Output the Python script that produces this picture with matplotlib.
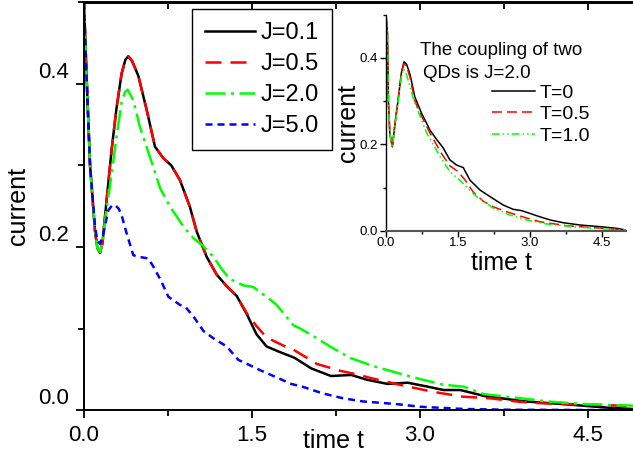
import matplotlib
matplotlib.use('Agg')
import matplotlib.pyplot as plt
from matplotlib.ticker import FixedLocator, MultipleLocator
from matplotlib.transforms import ScaledTranslation

plt.rcParams['font.family'] = ['Liberation Sans', 'DejaVu Sans']

# ---------------- main plot data (current vs time, different J) ----------------
t_j01 = [0, 0.02, 0.054, 0.098, 0.12, 0.143, 0.165, 0.2, 0.247, 0.29, 0.336, 0.37,
         0.396, 0.43, 0.485, 0.56, 0.634, 0.708, 0.78, 0.857, 0.946, 1.006, 1.095,
         1.185, 1.274, 1.363, 1.452, 1.54, 1.63, 1.74, 1.88, 2.03, 2.205, 2.386,
         2.53, 2.71, 2.89, 3.07, 3.21, 3.36, 3.58, 3.94, 4.3, 4.66, 5.0]
cur_j01 = [0.50, 0.42, 0.30, 0.22, 0.198, 0.193, 0.205, 0.255, 0.32, 0.37, 0.413, 0.43,
           0.434, 0.428, 0.41, 0.368, 0.323, 0.309, 0.300, 0.282, 0.249, 0.219, 0.188,
           0.166, 0.152, 0.140, 0.118, 0.093, 0.078, 0.0716, 0.0640, 0.051, 0.0417, 0.043,
           0.0370, 0.032, 0.0335, 0.0286, 0.0245, 0.0245, 0.017, 0.0105, 0.007, 0.003, 0.0005]

t_j05 = [0, 0.02, 0.054, 0.098, 0.12, 0.143, 0.165, 0.2, 0.247, 0.29, 0.336, 0.37,
         0.396, 0.43, 0.485, 0.56, 0.634, 0.708, 0.78, 0.857, 0.946, 1.006, 1.095,
         1.185, 1.274, 1.363, 1.452, 1.54, 1.63, 1.78, 1.87, 2.08, 2.29, 2.46, 2.566,
         2.85, 3.12, 3.38, 3.63, 3.89, 4.13, 4.4, 4.63, 5.0]
cur_j05 = [0.50, 0.42, 0.30, 0.22, 0.198, 0.193, 0.205, 0.255, 0.32, 0.37, 0.413, 0.43,
           0.434, 0.428, 0.41, 0.368, 0.323, 0.309, 0.300, 0.282, 0.249, 0.219, 0.188,
           0.166, 0.152, 0.140, 0.119, 0.103, 0.089, 0.079, 0.074, 0.0565, 0.048, 0.043,
           0.039, 0.030, 0.0222, 0.0164, 0.0143, 0.010, 0.008, 0.0069, 0.006, 0.0045]

t_j20 = [0, 0.02, 0.054, 0.098, 0.12, 0.143, 0.165, 0.2, 0.247, 0.29, 0.336, 0.365,
         0.39, 0.44, 0.5, 0.59, 0.68, 0.77, 0.83, 0.887, 0.976, 1.065, 1.155, 1.235,
         1.30, 1.42, 1.51, 1.63, 1.72, 1.87, 1.93, 2.08, 2.196, 2.375, 2.58, 2.79, 3.0,
         3.21, 3.39, 3.57, 3.86, 4.16, 4.46, 4.73, 5.0]
cur_j20 = [0.50, 0.42, 0.30, 0.22, 0.198, 0.194, 0.205, 0.245, 0.29, 0.335, 0.378, 0.39,
           0.393, 0.38, 0.347, 0.31, 0.272, 0.249, 0.237, 0.225, 0.211, 0.201, 0.188, 0.172,
           0.161, 0.153, 0.151, 0.139, 0.129, 0.104, 0.100, 0.088, 0.078, 0.064, 0.054, 0.0458,
           0.038, 0.031, 0.0286, 0.0195, 0.015, 0.0102, 0.0074, 0.006, 0.005]

t_j50 = [0, 0.02, 0.054, 0.098, 0.12, 0.143, 0.17, 0.217, 0.25, 0.277, 0.31, 0.336, 0.38,
         0.44, 0.485, 0.53, 0.574, 0.619, 0.69, 0.753, 0.857, 0.908, 0.976, 1.066, 1.155,
         1.274, 1.378, 1.48, 1.57, 1.72, 1.85, 1.95, 2.13, 2.31, 2.49, 2.78, 3.0, 3.4,
         3.8, 4.5, 5.0]
cur_j50 = [0.50, 0.42, 0.30, 0.225, 0.207, 0.204, 0.215, 0.245, 0.251, 0.2515, 0.247, 0.239,
           0.217, 0.190, 0.188, 0.187, 0.186, 0.176, 0.158, 0.139, 0.129, 0.126, 0.115, 0.097,
           0.088, 0.078, 0.0615, 0.055, 0.049, 0.040, 0.032, 0.0286, 0.0204, 0.0145, 0.0105,
           0.0074, 0.004, 0.0012, 0.0003, 0.0, 0.0]

# ---------------- inset data (J=2.0, different T) ----------------
t_T0 = [0, 0.03, 0.05, 0.08, 0.132, 0.19, 0.26, 0.32, 0.375, 0.43, 0.5, 0.6, 0.74, 0.84,
        0.92, 1.05, 1.19, 1.33, 1.47, 1.61, 1.75, 1.96, 2.17, 2.44, 2.65, 2.83, 3.0, 3.2,
        3.42, 3.69, 4.04, 4.46, 4.8, 5.0]
cur_T0 = [0.5, 0.457, 0.30, 0.225, 0.194, 0.25, 0.31, 0.365, 0.391, 0.385, 0.362, 0.31,
          0.272, 0.25, 0.232, 0.212, 0.192, 0.164, 0.152, 0.146, 0.117, 0.094, 0.0787, 0.0595,
          0.0495, 0.0463, 0.040, 0.0324, 0.0248, 0.0185, 0.0132, 0.0093, 0.0056, 0.0016]

t_T05 = [0, 0.03, 0.05, 0.08, 0.132, 0.19, 0.26, 0.32, 0.37, 0.43, 0.5, 0.6, 0.74, 0.84,
         0.92, 1.16, 1.33, 1.5, 1.65, 1.82, 2.03, 2.24, 2.51, 2.79, 3.2, 3.76, 4.32, 5.0]
cur_T05 = [0.5, 0.457, 0.30, 0.225, 0.194, 0.25, 0.31, 0.362, 0.387, 0.38, 0.355, 0.30,
           0.265, 0.243, 0.225, 0.178, 0.150, 0.137, 0.117, 0.089, 0.068, 0.055, 0.044,
           0.034, 0.0208, 0.0116, 0.007, 0.0016]

t_T10 = [0, 0.03, 0.05, 0.08, 0.132, 0.19, 0.26, 0.31, 0.36, 0.42, 0.57, 0.84, 1.13,
         1.33, 1.6, 1.89, 2.24, 2.58, 2.93, 3.35, 3.9, 4.46, 5.0]
cur_T10 = [0.5, 0.457, 0.30, 0.225, 0.192, 0.245, 0.305, 0.35, 0.375, 0.365, 0.305, 0.228,
           0.171, 0.137, 0.11, 0.0787, 0.052, 0.0363, 0.0248, 0.0155, 0.0093, 0.0046, 0.0016]

x_ticks = [0.0, 1.5, 3.0, 4.5]
x_ticklabels = ['0.0', '1.5', '3.0', '4.5']
y_ticks = [0.0, 0.2, 0.4]
y_ticklabels = ['0.0', '0.2', '0.4']

W, H = 633, 459
fig = plt.figure(figsize=(W / 100, H / 100), dpi=100)

# ---------------- main axes ----------------
ax = fig.add_axes([84 / W, (H - 410) / H, 560 / W, 407.5 / H])
lw = 1.8
kw = dict(solid_joinstyle='round', dash_joinstyle='round')
ax.plot(t_j01, cur_j01, color='black', lw=lw, label='J=0.1', **kw)
ax.plot(t_j05, cur_j05, color='#ff0000', lw=lw, ls=(0, (6.4, 3.6)), label='J=0.5', **kw)
ax.plot(t_j20, cur_j20, color='#00ff00', lw=lw, ls=(0, (8, 2.2, 1.2, 2.2)), label='J=2.0', **kw)
ax.plot(t_j50, cur_j50, color='#0000ff', lw=lw, ls=(0, (2.8, 2.0)), label='J=5.0', **kw)

ax.set_xlim(0, 5)
ax.set_ylim(0, 0.5)
ax.spines['right'].set_visible(False)
for s in ['left', 'bottom', 'top']:
    ax.spines[s].set_linewidth(1.4)
ax.xaxis.set_major_locator(FixedLocator(x_ticks))
ax.set_xticklabels(x_ticklabels)
ax.xaxis.set_minor_locator(MultipleLocator(0.75))
ax.yaxis.set_major_locator(FixedLocator(y_ticks))
ax.set_yticklabels(y_ticklabels)
ax.yaxis.set_minor_locator(MultipleLocator(0.1))
ax.tick_params(which='major', direction='out', length=6, width=1.3, labelsize=16)
ax.tick_params(which='minor', direction='out', length=4, width=1.3)
ax.tick_params(axis='x', which='major', pad=5)
ax.tick_params(axis='y', which='major', pad=5)

sec = ax.secondary_xaxis('top')
sec.set_xticks(x_ticks)
sec.xaxis.set_minor_locator(MultipleLocator(0.75))
sec.tick_params(which='major', direction='in', length=6, width=1.3, labeltop=False)
sec.tick_params(which='minor', direction='in', length=5, width=1.3)
sec.spines['top'].set_linewidth(1.4)

# y tick labels sit above their ticks, as in the original
for tk in ax.yaxis.get_major_ticks():
    tk.label1.set_transform(tk.label1.get_transform() +
                            ScaledTranslation(0, 0.14, fig.dpi_scale_trans))

ax.set_xlabel('time t', fontsize=18)
ax.xaxis.set_label_coords(0.445, -0.076)
ax.xaxis.label.set_va('center')
ax.set_ylabel('current', fontsize=18)
ax.yaxis.set_label_coords(-0.118, 0.5)
ax.yaxis.label.set_va('center')

leg = ax.legend(loc='upper left', bbox_to_anchor=(192 / W, 1 - 9 / H),
                bbox_transform=fig.transFigure, fontsize=17, frameon=True,
                fancybox=False, edgecolor='black', framealpha=1, borderpad=0.55,
                labelspacing=0.38, handlelength=2.1, handletextpad=0.25, borderaxespad=0)
leg.get_frame().set_linewidth(1.0)

# ---------------- inset axes ----------------
axin = fig.add_axes([386 / W, (H - 230.7) / H, 240 / W, 216 / H])
ilw = 1.1
axin.plot(t_T0, cur_T0, color='black', lw=ilw, label='T=0', **kw)
axin.plot(t_T05, cur_T05, color='#ff0000', lw=ilw, ls=(0, (6.5, 3.3)), label='T=0.5', **kw)
axin.plot(t_T10, cur_T10, color='#00ff00', lw=ilw, ls=(0, (5, 2, 1, 2, 1, 2)), label='T=1.0', **kw)
axin.set_xlim(0, 5)
axin.set_ylim(0, 0.5)
axin.spines['top'].set_visible(False)
axin.spines['right'].set_visible(False)
axin.spines['bottom'].set_color('#555555')
axin.spines['bottom'].set_linewidth(1.5)
axin.spines['left'].set_linewidth(1.0)
axin.xaxis.set_major_locator(FixedLocator(x_ticks))
axin.set_xticklabels(x_ticklabels)
axin.xaxis.set_minor_locator(MultipleLocator(0.75))
axin.yaxis.set_major_locator(FixedLocator(y_ticks))
axin.set_yticklabels(y_ticklabels)
axin.yaxis.set_minor_locator(MultipleLocator(0.1))
axin.tick_params(which='major', direction='out', length=4, width=1.0, labelsize=9.5, pad=1.5)
axin.tick_params(axis='x', which='major', pad=0.8)
axin.tick_params(which='minor', direction='out', length=2.5, width=1.0)

axin.set_xlabel('time t', fontsize=18)
axin.xaxis.set_label_coords(0.483, -0.148)
axin.xaxis.label.set_va('center')
axin.set_ylabel('current', fontsize=18)
axin.yaxis.set_label_coords(-0.158, 0.5)
axin.yaxis.label.set_va('center')

axin.text(0.142, 0.835, 'The coupling of two', fontsize=13.5, transform=axin.transAxes,
          ha='left', va='center')
axin.text(0.154, 0.728, 'QDs is J=2.0', fontsize=13.5, transform=axin.transAxes,
          ha='left', va='center')

axin.legend(loc='upper left', bbox_to_anchor=(492 / W, 1 - 84 / H),
            bbox_transform=fig.transFigure, fontsize=14, frameon=False, borderpad=0,
            labelspacing=0.2, handlelength=2.2, handletextpad=0.27, borderaxespad=0)

fig.savefig('out.png', dpi=100)
